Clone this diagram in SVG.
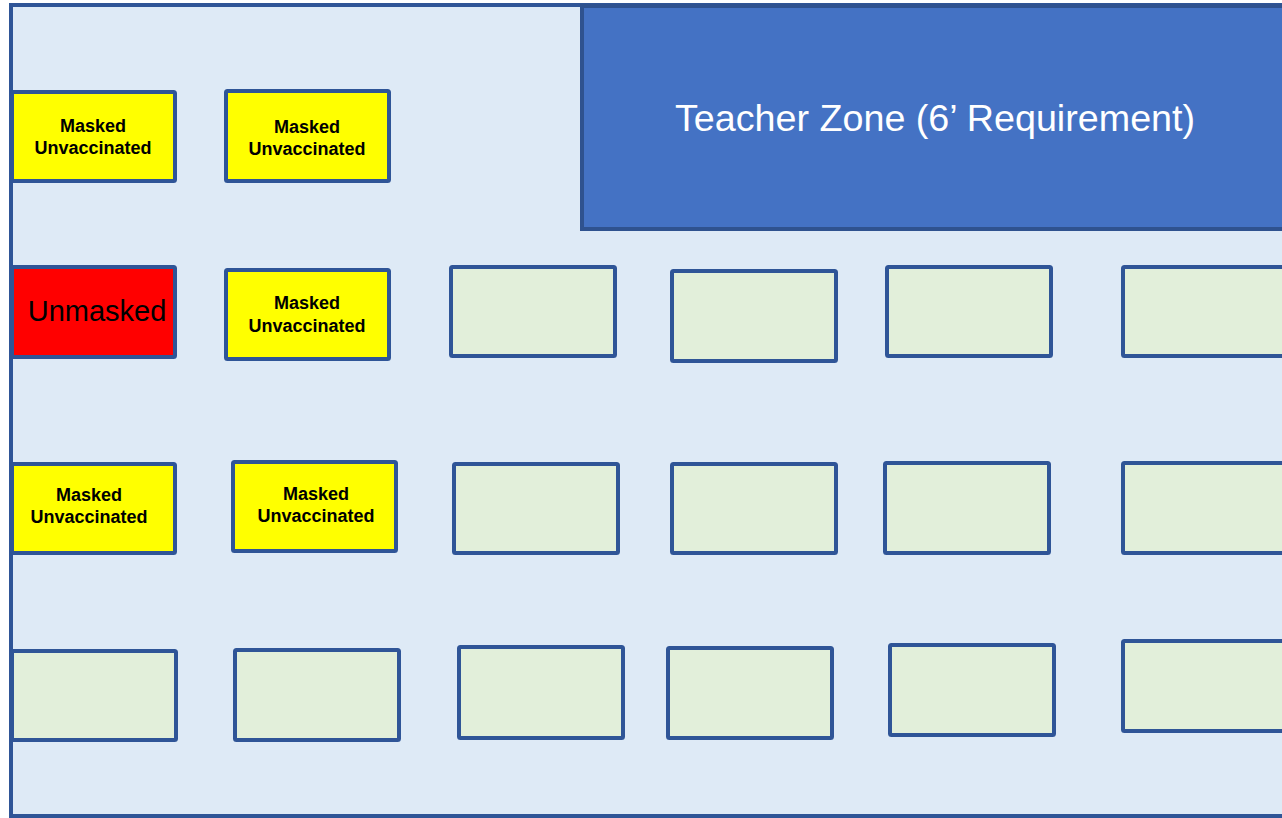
<svg xmlns="http://www.w3.org/2000/svg" width="1282" height="818" viewBox="0 0 1282 818">
<style>
.desk{stroke:#2F5597;stroke-width:4;}
.g{fill:#E2EFDA;}
.y{fill:#FFFF00;}
.r{fill:#FF0000;}
.lbl{font-family:"Liberation Sans",Arial,sans-serif;font-weight:bold;font-size:18px;fill:#000;text-anchor:middle;}
</style>
<rect x="0" y="0" width="1282" height="818" fill="#FFFFFF"/>
<g id="room">
<rect x="11" y="5" width="1300" height="811" fill="#DEEAF6" stroke="#2F5597" stroke-width="4"/>
</g>
<g id="teacher-zone">
<rect x="582" y="6" width="720" height="223" fill="#4472C4" stroke="#2F528F" stroke-width="4"/>
<text x="935" y="131" font-family="Liberation Sans,Arial,sans-serif" font-size="37.7" fill="#FFFFFF" text-anchor="middle">Teacher Zone (6’ Requirement)</text>
</g>
<g id="desk-r1c1"><rect class="desk y" x="12" y="92" width="163" height="89" rx="1.5"/><text class="lbl" x="93" y="132"><tspan x="93">Masked</tspan><tspan x="93" dy="22">Unvaccinated</tspan></text></g>
<g id="desk-r1c2"><rect class="desk y" x="226" y="91" width="163" height="90" rx="1.5"/><text class="lbl" x="307" y="133"><tspan x="307">Masked</tspan><tspan x="307" dy="22">Unvaccinated</tspan></text></g>
<g id="desk-r2c1"><rect class="desk r" x="12" y="267" width="163" height="90" rx="1.5"/><text x="97" y="321" font-family="Liberation Sans,Arial,sans-serif" font-size="29" fill="#000" text-anchor="middle">Unmasked</text></g>
<g id="desk-r2c2"><rect class="desk y" x="226" y="270" width="163" height="89" rx="1.5"/><text class="lbl" x="307" y="309"><tspan x="307">Masked</tspan><tspan x="307" dy="23">Unvaccinated</tspan></text></g>
<g id="desk-r2c3"><rect class="desk g" x="451" y="267" width="164" height="89" rx="1.5"/></g>
<g id="desk-r2c4"><rect class="desk g" x="672" y="271" width="164" height="90" rx="1.5"/></g>
<g id="desk-r2c5"><rect class="desk g" x="887" y="267" width="164" height="89" rx="1.5"/></g>
<g id="desk-r2c6"><rect class="desk g" x="1123" y="267" width="200" height="89" rx="1.5"/></g>
<g id="desk-r3c1"><rect class="desk y" x="12" y="464" width="163" height="89" rx="1.5"/><text class="lbl" x="89" y="501"><tspan x="89">Masked</tspan><tspan x="89" dy="22">Unvaccinated</tspan></text></g>
<g id="desk-r3c2"><rect class="desk y" x="233" y="462" width="163" height="89" rx="1.5"/><text class="lbl" x="316" y="500"><tspan x="316">Masked</tspan><tspan x="316" dy="22">Unvaccinated</tspan></text></g>
<g id="desk-r3c3"><rect class="desk g" x="454" y="464" width="164" height="89" rx="1.5"/></g>
<g id="desk-r3c4"><rect class="desk g" x="672" y="464" width="164" height="89" rx="1.5"/></g>
<g id="desk-r3c5"><rect class="desk g" x="885" y="463" width="164" height="90" rx="1.5"/></g>
<g id="desk-r3c6"><rect class="desk g" x="1123" y="463" width="200" height="90" rx="1.5"/></g>
<g id="desk-r4c1"><rect class="desk g" x="12" y="651" width="164" height="89" rx="1.5"/></g>
<g id="desk-r4c2"><rect class="desk g" x="235" y="650" width="164" height="90" rx="1.5"/></g>
<g id="desk-r4c3"><rect class="desk g" x="459" y="647" width="164" height="91" rx="1.5"/></g>
<g id="desk-r4c4"><rect class="desk g" x="668" y="648" width="164" height="90" rx="1.5"/></g>
<g id="desk-r4c5"><rect class="desk g" x="890" y="645" width="164" height="90" rx="1.5"/></g>
<g id="desk-r4c6"><rect class="desk g" x="1123" y="641" width="200" height="90" rx="1.5"/></g>
<g id="connectors"/>
</svg>
